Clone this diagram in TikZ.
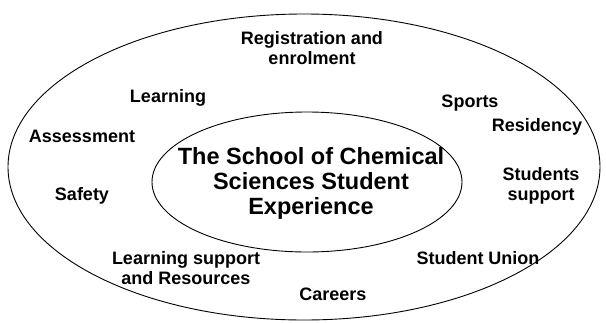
\documentclass[tikz,border=0pt]{standalone}
\usepackage{fontspec}
\setmainfont{Liberation Sans}
\usetikzlibrary{positioning}
\tikzset{
  ring/.style={line width=0.9pt, black},
  topic/.style={font=\bfseries\fontsize{18}{20.5}\selectfont, align=center, inner sep=0pt},
  hub/.style={font=\bfseries\fontsize{23.5}{25}\selectfont, align=center, inner sep=0pt},
}

\begin{document}
\begin{tikzpicture}[x=1pt, y=-1pt]
  \useasboundingbox (0,0) rectangle (606,322);
  % outer ring and inner ring
  \draw[ring] (304,167) ellipse [x radius=296, y radius=153];
  \draw[ring] (307,182) ellipse [x radius=155, y radius=70];
  % centre text
  \node[hub] (centre) at (311,183) {The School of Chemical\\Sciences Student\\Experience};
  % topics round the ring
  \node[topic] (regist) at (312,48) {Registration and\\enrolment};
  \node[topic] (learn) at (168,98) {Learning};
  \node[topic] (sports) at (470,103) {Sports};
  \node[topic] (assess) at (82,136) {Assessment};
  \node[topic] (resid) at (537,127) {Residency};
  \node[topic] (safety) at (82,196) {Safety};
  \node[topic] (studsup) at (541,186) {Students\\support};
  \node[topic] (learnsup) at (186,268) {Learning support\\and Resources};
  \node[topic] (union) at (478,258) {Student Union};
  \node[topic] (careers) at (333,294) {Careers};
\end{tikzpicture}
\end{document}
